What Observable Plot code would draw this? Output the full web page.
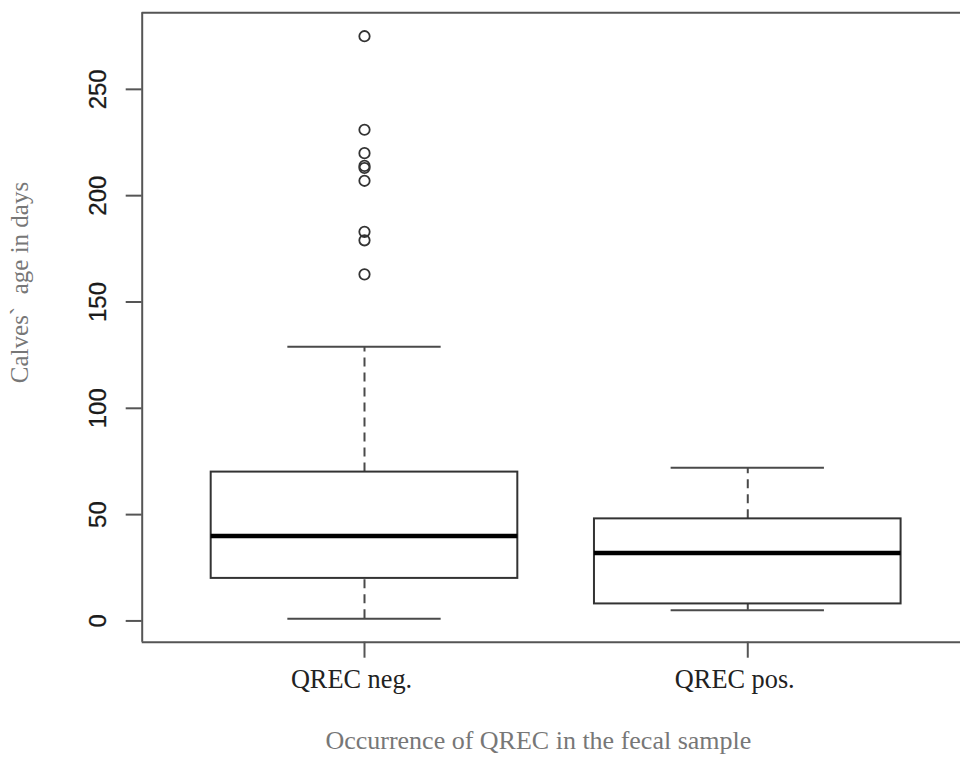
<!DOCTYPE html>
<html>
<head>
<meta charset="utf-8">
<script src="https://cdn.jsdelivr.net/npm/d3@7"></script>
<script src="https://cdn.jsdelivr.net/npm/@observablehq/plot@0.6"></script>
<style>
  html, body { margin: 0; padding: 0; background: #fff; }
  #chart svg { display: block; }
</style>
</head>
<body>
<div id="chart"></div>
<script>
// ---- data ----
const categories = ["QREC neg.", "QREC pos."];
const lowerWhisker = [1, 5];
const q1 = [20, 8];
const median = [40, 32];
const q3 = [70, 48];
const upperWhisker = [129, 72];
const outliersNeg = [275, 231, 220, 214, 213, 207, 183, 179, 163];
const yTicks = [0, 50, 100, 150, 200, 250];
const xTitle = "Occurrence of QREC in the fecal sample";
const yTitle = "Calves`  age in days";

// ---- derived tables ----
const boxes = categories.map((c, i) => ({
  pos: i + 1, cat: c,
  lo: lowerWhisker[i], q1: q1[i], med: median[i], q3: q3[i], hi: upperWhisker[i]
}));
const outliers = outliersNeg.map(v => ({pos: 1, value: v}));

const xDomain = [0.42, 2.555];
const yDomain = [-10, 286];
const halfBox = 0.4, halfCap = 0.2;
const lineCol = "#4a4a4a";
const serif = "'Liberation Serif', 'Times New Roman', serif";
const sans = "'Liberation Sans', Arial, Helvetica, sans-serif";

const chart = Plot.plot({
  width: 960,
  height: 758,
  marginLeft: 141.7,
  marginRight: 0,
  marginTop: 12.3,
  marginBottom: 116.3,
  x: {type: "linear", domain: xDomain, axis: null},
  y: {type: "linear", domain: yDomain, axis: null},
  marks: [
    // frame (left, bottom, top)
    Plot.ruleX([xDomain[0]], {y1: yDomain[0], y2: yDomain[1], stroke: "#555", strokeWidth: 2}),
    Plot.ruleY([yDomain[0], yDomain[1]], {x1: xDomain[0], x2: xDomain[1], stroke: "#555", strokeWidth: 2}),
    // y ticks
    Plot.ruleY(yTicks, {x1: xDomain[0], x2: xDomain[0], insetLeft: -16, stroke: "#555", strokeWidth: 2}),
    Plot.text(yTicks, {
      x: () => xDomain[0], y: d => d, text: d => String(d),
      rotate: -90, textAnchor: "middle", lineAnchor: "bottom",
      dx: -36, fontSize: 24, fontFamily: sans, fill: "#1a1a1a", stroke: "#1a1a1a", strokeWidth: 0.3
    }),
    // x ticks
    Plot.ruleX(boxes, {x: "pos", y1: yDomain[0], y2: yDomain[0], insetBottom: -16, stroke: "#555", strokeWidth: 2}),
    Plot.text(boxes, {
      x: "pos", y: () => yDomain[0], text: "cat",
      lineAnchor: "bottom", textAnchor: "middle", dy: 46, dx: -13,
      fontSize: 26.3, fontFamily: serif, fill: "#222"
    }),
    // whiskers (dashed)
    Plot.ruleX(boxes, {x: "pos", y1: "q3", y2: "hi", stroke: lineCol, strokeWidth: 2, strokeDasharray: "9,6"}),
    Plot.ruleX(boxes, {x: "pos", y1: "lo", y2: "q1", stroke: lineCol, strokeWidth: 2, strokeDasharray: "9,6"}),
    // caps
    Plot.ruleY(boxes, {y: "hi", x1: d => d.pos - halfCap, x2: d => d.pos + halfCap, stroke: lineCol, strokeWidth: 2}),
    Plot.ruleY(boxes, {y: "lo", x1: d => d.pos - halfCap, x2: d => d.pos + halfCap, stroke: lineCol, strokeWidth: 2}),
    // boxes
    Plot.rect(boxes, {x1: d => d.pos - halfBox, x2: d => d.pos + halfBox, y1: "q1", y2: "q3", fill: "white", stroke: "#333", strokeWidth: 2}),
    // medians
    Plot.ruleY(boxes, {y: "med", x1: d => d.pos - halfBox, x2: d => d.pos + halfBox, stroke: "black", strokeWidth: 4.5}),
    // outliers
    Plot.dot(outliers, {x: "pos", y: "value", r: 5.2, stroke: "#333", strokeWidth: 1.8, fill: "none"}),
    // axis titles
    Plot.text([xTitle], {
      frameAnchor: "bottom", text: d => d, lineAnchor: "bottom",
      dx: -13, dy: 107, fontSize: 26, fontFamily: serif, fill: "#777"
    }),
    Plot.text([yTitle], {
      frameAnchor: "left", text: d => d, rotate: -90, lineAnchor: "bottom", textAnchor: "middle",
      dx: -114, dy: -45, fontSize: 25, fontFamily: serif, fill: "#777"
    })
  ]
});
document.getElementById("chart").appendChild(chart);
</script>
</body>
</html>
